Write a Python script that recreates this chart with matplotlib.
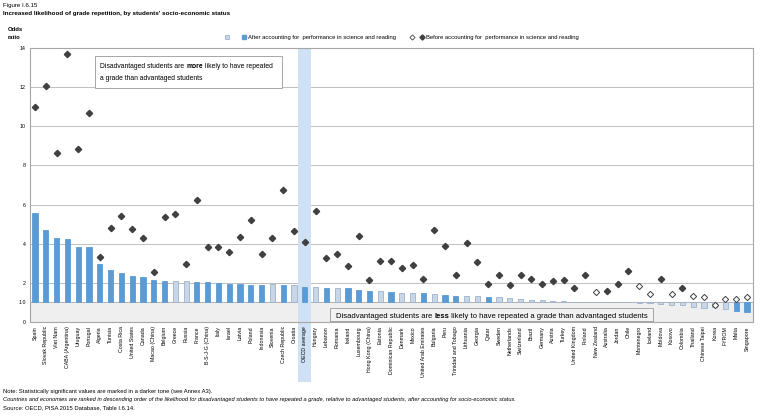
import numpy as np
import matplotlib
matplotlib.use("Agg")
import matplotlib.pyplot as plt
from matplotlib.patches import Rectangle
from matplotlib.lines import Line2D

plt.rcParams['font.family'] = ['Liberation Sans', 'DejaVu Sans']

# Countries, ranked by odds ratio after accounting for performance
countries = [
    "Spain", "Slovak Republic", "Viet Nam", "CABA (Argentina)", "Uruguay", "Portugal",
    "Algeria", "Tunisia", "Costa Rica", "United States", "Canada", "Macao (China)",
    "Belgium", "Greece", "Russia", "France", "B-S-J-G (China)", "Italy", "Israel",
    "Latvia", "Poland", "Indonesia", "Slovenia", "Czech Republic", "Croatia",
    "OECD average", "Hungary", "Lebanon", "Romania", "Ireland", "Luxembourg",
    "Hong Kong (China)", "Estonia", "Dominican Republic", "Denmark", "Mexico",
    "United Arab Emirates", "Bulgaria", "Peru", "Trinidad and Tobago", "Lithuania",
    "Georgia", "Qatar", "Sweden", "Netherlands", "Switzerland", "Brazil", "Germany",
    "Austria", "Turkey", "United Kingdom", "Finland", "New Zealand", "Australia",
    "Jordan", "Chile", "Montenegro", "Iceland", "Moldova", "Kosovo", "Colombia",
    "Thailand", "Chinese Taipei", "Korea", "FYROM", "Malta", "Singapore",
]

# odds ratio after accounting for performance in science and reading (bars)
after = [
    5.59, 4.69, 4.28, 4.24, 3.85, 3.85, 2.95, 2.66, 2.51, 2.37, 2.31, 2.14,
    2.09, 2.07, 2.07, 2.05, 2.02, 1.97, 1.95, 1.95, 1.90, 1.90, 1.93, 1.88, 1.90,
    1.81, 1.80, 1.74, 1.74, 1.74, 1.63, 1.59, 1.56, 1.51, 1.49, 1.49, 1.47, 1.42,
    1.37, 1.34, 1.34, 1.32, 1.30, 1.29, 1.22, 1.20, 1.13, 1.10, 1.08, 1.06, 1.04,
    1.02, 1.01, 1.00, 1.00, 1.00, 0.99, 0.98, 0.94, 0.86, 0.86, 0.79, 0.72, 0.76,
    0.64, 0.56, 0.49,
]
after_sig = [
    1, 1, 1, 1, 1, 1, 1, 1, 1, 1, 1, 1, 1, 0, 0, 1, 1, 1, 1, 1, 1, 1, 0, 1, 0,
    1, 0, 1, 0, 1, 1, 1, 0, 1, 0, 0, 1, 0, 1, 1, 0, 0, 1, 0, 0, 0, 0, 0, 0, 0,
    0, 0, 0, 0, 0, 0, 0, 0, 0, 0, 0, 0, 0, 0, 0, 1, 1,
]

# odds ratio before accounting for performance (diamonds)
before = [
    10.96, 12.05, 8.62, 13.67, 8.82, 10.70, 3.31, 4.81, 5.43, 4.74, 4.31, 2.53,
    5.37, 5.50, 2.97, 6.25, 3.84, 3.84, 3.60, 4.35, 5.20, 3.50, 4.30, 6.73, 4.65,
    4.09, 5.67, 3.29, 3.48, 2.88, 4.38, 2.15, 3.12, 3.10, 2.75, 2.92, 2.20, 4.69,
    3.87, 2.39, 4.06, 3.09, 1.96, 2.41, 1.88, 2.42, 2.20, 1.95, 2.12, 2.15, 1.76,
    2.42, 1.51, 1.56, 1.93, 2.61, 1.85, 1.44, 2.20, 1.42, 1.73, 1.34, 1.27, 0.88,
    1.17, 1.18, 1.30,
]
before_sig = [
    1, 1, 1, 1, 1, 1, 1, 1, 1, 1, 1, 1, 1, 1, 1, 1, 1, 1, 1, 1, 1, 1, 1, 1, 1,
    1, 1, 1, 1, 1, 1, 1, 1, 1, 1, 1, 1, 1, 1, 1, 1, 1, 1, 1, 1, 1, 1, 1, 1, 1,
    1, 1, 0, 1, 1, 1, 0, 0, 1, 0, 1, 0, 0, 0, 0, 0, 0,
]

yticks = [0, 1, 2, 4, 6, 8, 10, 12, 14]
ytick_labels = ["0", "1.0", "2", "4", "6", "8", "10", "12", "14"]

DARK = "#5B9BD5"
LIGHT = "#C8D7E8"
LIGHT_EDGE = "#9DB3CC"
GRAY = "#A6A6A6"
DIAMOND = "#404040"


def rich_text(ax, x, y, parts, **kw):
    """Write text pieces one after another, some of them bold"""
    text, weight = parts[0]
    t = ax.text(x, y, text, weight=weight, transform=ax.transAxes,
                va="bottom", ha="left", **kw)
    for text, weight in parts[1:]:
        t = ax.annotate(text, xy=(1, 0), xycoords=t, va="bottom", ha="left",
                        weight=weight, **kw)
    return t


fig = plt.figure(figsize=(7.68, 4.18), dpi=100)
ax = fig.add_axes([30 / 768, 1 - 322 / 418, 723 / 768, 274 / 418])

x = np.arange(len(countries))
after = np.array(after)
before = np.array(before)
after_sig = np.array(after_sig, dtype=bool)
before_sig = np.array(before_sig, dtype=bool)
oecd = countries.index("OECD average")

# gray zone below 1.0 and gridlines
ax.axhspan(0, 1, facecolor="#EFEFEF", edgecolor=GRAY, lw=0.6, zorder=0.5)
for v in yticks[2:]:
    ax.axhline(v, color="#BFBFBF", lw=0.7, zorder=0.6)

# OECD average highlight, extends down over the labels
ax.add_patch(Rectangle((oecd - 0.6, -0.22), 1.2, 1.22,
                       transform=ax.get_xaxis_transform(), facecolor="#CFE1F3",
                       edgecolor="none", clip_on=False, zorder=1.5))

# bars start from 1.0
bar_colors = [DARK if s else LIGHT for s in after_sig]
bar_edges = [DARK if s else LIGHT_EDGE for s in after_sig]
ax.bar(x, after - 1, bottom=1, width=0.48, color=bar_colors,
       edgecolor=bar_edges, linewidth=0.6, zorder=2)

ax.plot(x[before_sig], before[before_sig], "D", ms=3.2, color=DIAMOND,
        mec=DIAMOND, zorder=3)
ax.plot(x[~before_sig], before[~before_sig], "D", ms=3.2, mfc="white",
        mec=DIAMOND, mew=0.7, zorder=3)

ax.set_xlim(-0.47, 66.55)
ax.set_ylim(0, 14)
ax.set_yticks(yticks)
ax.set_yticklabels(ytick_labels, fontsize=3.8)
ax.set_xticks(x)
ax.set_xticklabels(countries, rotation=90, fontsize=3.8)
ax.tick_params(length=0, pad=3)
for sp in ax.spines.values():
    sp.set_color(GRAY)
    sp.set_linewidth(0.8)

# annotation boxes
ax.add_patch(Rectangle((0.09, 0.854), 0.259, 0.118, transform=ax.transAxes,
                       facecolor="white", edgecolor=GRAY, lw=0.7, zorder=4))
rich_text(ax, 0.097, 0.918, [("Disadvantaged students are ", "normal"),
                             ("more", "bold"),
                             (" likely to have repeated", "normal")],
          fontsize=4.85, zorder=5)
rich_text(ax, 0.097, 0.877, [("a grade than advantaged students", "normal")],
          fontsize=4.85, zorder=5)
ax.add_patch(Rectangle((0.415, 0.002), 0.447, 0.048, transform=ax.transAxes,
                       facecolor="#F2F2F2", edgecolor=GRAY, lw=0.7, zorder=4))
rich_text(ax, 0.423, 0.008, [("Disadvantaged students are ", "normal"),
                             ("less", "bold"),
                             (" likely to have repeated a grade than advantaged students", "normal")],
          fontsize=5.5, zorder=5)

# headings
fig.text(3 / 768, 1 - 3 / 418, "Figure I.6.15", fontsize=4.4, va="top")
fig.text(3 / 768, 1 - 11 / 418,
         "Increased likelihood of grade repetition, by students' socio-economic status",
         fontsize=4.5, weight="bold", va="top")
fig.text(8 / 768, 1 - 27 / 418, "Odds\nratio", fontsize=4.2, weight="bold",
         va="top", linespacing=1.7)

# legend drawn by hand
ly = 1 - 37 / 418
fig.add_artist(Line2D([227 / 768], [ly], marker="s", ms=3.2, mfc=LIGHT,
                      mec=LIGHT_EDGE, mew=0.6, transform=fig.transFigure))
fig.add_artist(Line2D([244 / 768], [ly], marker="s", ms=2.6, mfc=DARK,
                      mec=DARK, transform=fig.transFigure))
fig.text(248 / 768, ly, "After accounting for  performance in science and reading",
         fontsize=4.2, va="center")
fig.add_artist(Line2D([412 / 768], [ly], marker="D", ms=2.6, mfc="white",
                      mec=DIAMOND, mew=0.6, transform=fig.transFigure))
fig.add_artist(Line2D([422 / 768], [ly], marker="D", ms=2.6, mfc=DIAMOND,
                      mec=DIAMOND, transform=fig.transFigure))
fig.text(426 / 768, ly, "Before accounting for  performance in science and reading",
         fontsize=4.2, va="center")

# notes
fig.text(3 / 768, 1 - 389 / 418,
         "Note: Statistically significant values are marked in a darker tone (see Annex A3).",
         fontsize=4.2, va="top")
fig.text(3 / 768, 1 - 397 / 418,
         "Countries and economies are ranked in descending order of the likelihood for disadvantaged students "
         "to have repeated a grade, relative to advantaged students, after accounting for socio-economic status.",
         fontsize=4.1, va="top", style="italic")
fig.text(3 / 768, 1 - 405 / 418, "Source: OECD, PISA 2015 Database, Table I.6.14.",
         fontsize=4.2, va="top")

fig.savefig("out.png", dpi=100)
